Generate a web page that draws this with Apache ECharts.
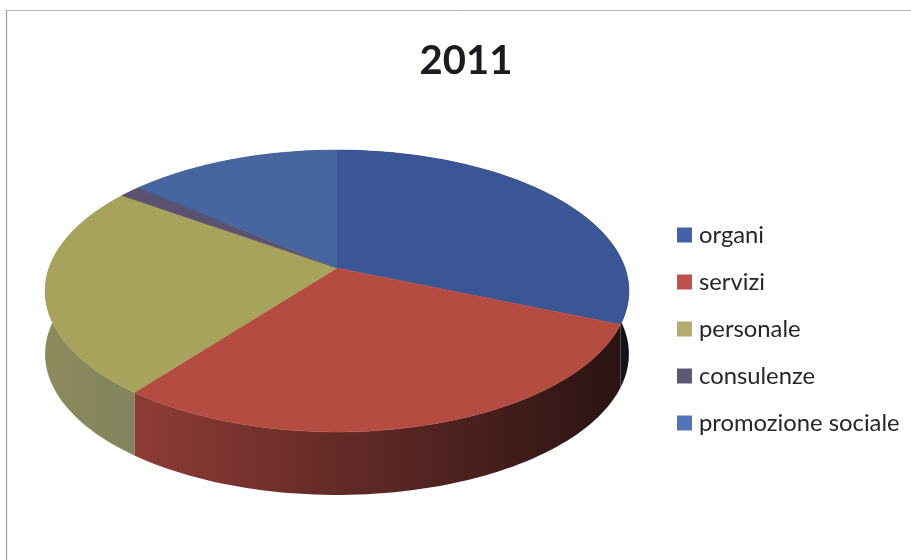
<!DOCTYPE html>
<html><head><meta charset="utf-8">
<style>html,body{margin:0;padding:0;background:#fff}#c{width:911px;height:560px}</style>
<script src="https://cdn.jsdelivr.net/npm/echarts@6/dist/echarts.min.js"></script>
</head><body><div id="c"></div>
<script>
const title = '2011';
const categories = ['organi','servizi','personale','consulenze','promozione sociale'];
const values = [31.3,29.2,24.3,1.4,13.8];

const legendColors = ['#3f62a8','#c0504d','#b5ad6f','#5d5878','#4f74b8'];
const topColors = ['#3b5696','#b54c42','#a8a35c','#5a5270','#47669f'];
const sideStops = [
  ['#141a26','#10141c'],
  ['#8e3b36','#2a1412'],
  ['#8d8b5c','#82835e'],
  ['#3a3550','#3a3550'],
  ['#2f4570','#2f4570']
];

const CX=337, CY=268, A=288, B=137.2, K=0.163, DEPTH=63;
const total = values.reduce((a,b)=>a+b,0);
const project = (deg)=>{
  const r=deg*Math.PI/180, u=Math.sin(r), v=Math.cos(r), w=1+K*v;
  return [CX+A*u/w, CY-B*v/w];
};
const cum=[0]; values.forEach((v,i)=>cum.push(cum[i]+v));

function render(i){
  return function(params,api){
    const share=api.value(0);
    const a0=cum[i]/total*360, a1=a0+share/total*360;
    const n=Math.max(2,Math.ceil((a1-a0)/1.5));
    const rim=[];
    for(let k=0;k<=n;k++) rim.push(project(a0+(a1-a0)*k/n));
    const lower=rim.map(p=>[p[0],p[1]+DEPTH]).reverse();
    return {type:'group',children:[
      {type:'polygon',z2:1,shape:{points:rim.concat(lower)},silent:true,
       style:{fill:{type:'linear',global:true,x:i===1?135:44,y:0,x2:i===1?620:135,y2:0,
         colorStops:[{offset:0,color:sideStops[i][0]},{offset:1,color:sideStops[i][1]}]},
         stroke:null}},
      {type:'polygon',z2:2,shape:{points:[[CX,CY]].concat(rim)},silent:true,
       style:{fill:topColors[i],stroke:topColors[i],lineWidth:0.5}}
    ]};
  };
}

const chart=echarts.init(document.getElementById('c'),null,{renderer:'canvas'});
chart.setOption({
  animation:false,
  backgroundColor:'#fff',
  title:{text:title,left:461,top:36,textAlign:'center',
    textStyle:{fontFamily:'Lato',fontWeight:'bold',fontSize:40,color:'#1c1c20'}},
  legend:{orient:'vertical',left:672,top:218,itemWidth:15,itemHeight:15,itemGap:23,icon:'rect',
    data:categories,selectedMode:false,
    textStyle:{fontFamily:'Lato',fontSize:23.8,color:'#26262c',padding:[0,0,0,2]}},
  graphic:[
    {type:'line',shape:{x1:6,y1:10.5,x2:911,y2:10.5},silent:true,z:-1,style:{stroke:'#b4b4bc',lineWidth:1}},
    {type:'line',shape:{x1:6.5,y1:10,x2:6.5,y2:560},silent:true,z:-1,style:{stroke:'#a4a4b0',lineWidth:1.3}}
  ],
  series:categories.map((name,i)=>({
    type:'custom',name,coordinateSystem:'none',
    data:[[values[i]]],renderItem:render(i),
    itemStyle:{color:legendColors[i]},silent:true
  }))
});
</script></body></html>
